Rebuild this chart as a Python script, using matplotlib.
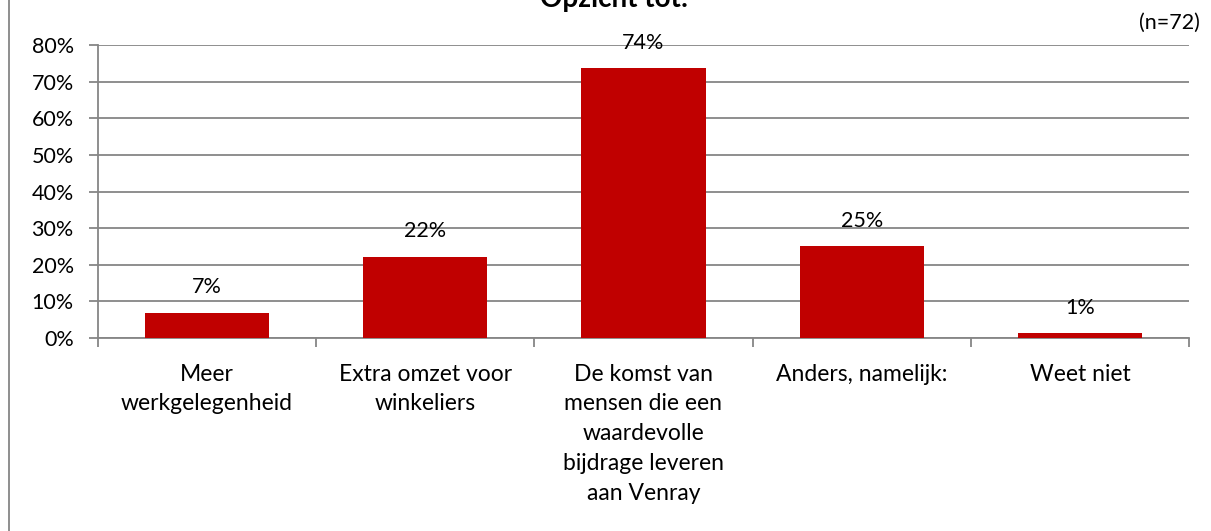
import matplotlib
matplotlib.use("Agg")
import matplotlib.pyplot as plt
from matplotlib.lines import Line2D

# data
categories = ["Meer\nwerkgelegenheid", "Extra omzet voor\nwinkeliers",
              "De komst van\nmensen die een\nwaardevolle\nbijdrage leveren\naan Venray",
              "Anders, namelijk:", "Weet niet"]
values = [6.9, 22.2, 73.6, 25.0, 1.4]
value_labels = ["7%", "22%", "74%", "25%", "1%"]
y_ticks = [0, 10, 20, 30, 40, 50, 60, 70, 80]

plt.rcParams["font.family"] = ["Lato", "DejaVu Sans"]
W, H = 1211, 531
fig = plt.figure(figsize=(W / 100, H / 100), dpi=100)
ax = fig.add_axes([98 / W, 1 - 338 / H, (1189 - 98) / W, (338 - 45) / H])

red = "#c00000"
grey = "#868686"
xs = list(range(len(categories)))
ax.bar(xs, values, width=0.57, color=red, zorder=3)
for x, v, lab in zip(xs, values, value_labels):
    ax.annotate(lab, (x, v), xytext=(0, 11), textcoords="offset points",
                ha="center", va="bottom", fontsize=15.5, color="black")

ax.set_xlim(-0.5, len(categories) - 0.5)
ax.set_ylim(0, 80)
ax.set_yticks(y_ticks)
ax.set_yticklabels([f"{t}%" for t in y_ticks], fontsize=15.5)
ax.yaxis.grid(True, color=grey, linewidth=1.3, zorder=0)
ax.tick_params(axis="y", length=6.5, width=1.3, color=grey, pad=11)

# category labels between boundary ticks, Excel style
ax.set_xticks([i - 0.5 for i in range(len(categories) + 1)])
ax.set_xticklabels([])
ax.tick_params(axis="x", length=6.5, width=1.3, color=grey)
for x, cat in zip(xs, categories):
    ax.text(x, -7.0, cat, ha="center", va="top", fontsize=16.5,
            linespacing=1.52, transform=ax.transData)

for side in ["top", "right"]:
    ax.spines[side].set_visible(False)
for side in ["left", "bottom"]:
    ax.spines[side].set_color(grey)
    ax.spines[side].set_linewidth(1.3)

fig.text(614 / W, 1 - 7 / H, "Opzicht tot:", ha="center", va="baseline",
         fontsize=20, fontweight="bold")
fig.text(1200 / W, 1 - 29 / H, "(n=72)", ha="right", va="baseline", fontsize=15.5)
fig.add_artist(Line2D([9 / W, 9 / W], [0, 1], color=grey, linewidth=1.3,
                      transform=fig.transFigure))

fig.savefig("out.png", dpi=100)
